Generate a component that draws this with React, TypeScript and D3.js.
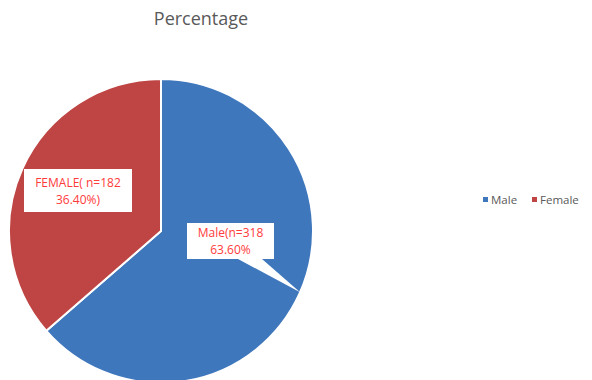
import React from "react";
import * as d3 from "d3";

const categories = ["Male", "Female"];
const counts = [318, 182];
const percents = [63.6, 36.4];
const labelLines = [
  ["Male(n=318", "63.60%"],
  ["FEMALE( n=182", "36.40%)"],
];
const colors = ["#3F77BD", "#BE4543"];

export default function App() {
  const W = 592, H = 380;
  const cx = 161, cy = 231, r = 152;
  const pie = d3.pie<number>().sort(null).value((d) => d)(percents);
  const arc = d3.arc<d3.PieArcDatum<number>>().innerRadius(0).outerRadius(r);
  const font = "'Open Sans', 'Liberation Sans', sans-serif";

  const boxes = [
    { x: 187, y: 223, w: 87, h: 36 },
    { x: 24, y: 169, w: 108, h: 43 },
  ];
  const tipAngle = pie[0].startAngle + (pie[0].endAngle - pie[0].startAngle) * 0.497;
  const tip = [cx + r * Math.sin(tipAngle), cy - r * Math.cos(tipAngle)];

  return (
    <svg width={W} height={H} style={{ position: "fixed", left: 0, top: 0, background: "#fff" }} fontFamily={font}>
      <text x={201} y={25} textAnchor="middle" fontSize={18} fill="#595959">Percentage</text>
      <g transform={`translate(${cx},${cy})`}>
        {pie.map((p, i) => (
          <path key={i} d={arc(p) || ""} fill={colors[i]} stroke="#fff" strokeWidth={2} strokeLinejoin="round" />
        ))}
      </g>
      <path
        d={`M${boxes[0].x},${boxes[0].y} H${boxes[0].x + boxes[0].w} V${boxes[0].y + boxes[0].h} H${boxes[0].x + 75} L${tip[0]},${tip[1]} L${boxes[0].x + 51},${boxes[0].y + boxes[0].h} H${boxes[0].x} Z`}
        fill="#fff"
      />
      <rect x={boxes[1].x} y={boxes[1].y} width={boxes[1].w} height={boxes[1].h} fill="#fff" />
      {boxes.map((b, i) =>
        labelLines[i].map((l, j) => (
          <text
            key={`${i}-${j}`}
            x={b.x + b.w / 2}
            y={b.y + (i === 1 ? 18 : 14) + j * 16.5}
            textAnchor="middle"
            fontSize={12}
            fill="#FF3B3B"
          >
            {l}
          </text>
        ))
      )}
      <g fontSize={11.5} fill="#595959">
        <rect x={483} y={197} width={5} height={5} fill={colors[0]} />
        <text x={491} y={204}>{categories[0]}</text>
        <rect x={532} y={197} width={5} height={5} fill={colors[1]} />
        <text x={540} y={204}>{categories[1]}</text>
      </g>
    </svg>
  );
}
